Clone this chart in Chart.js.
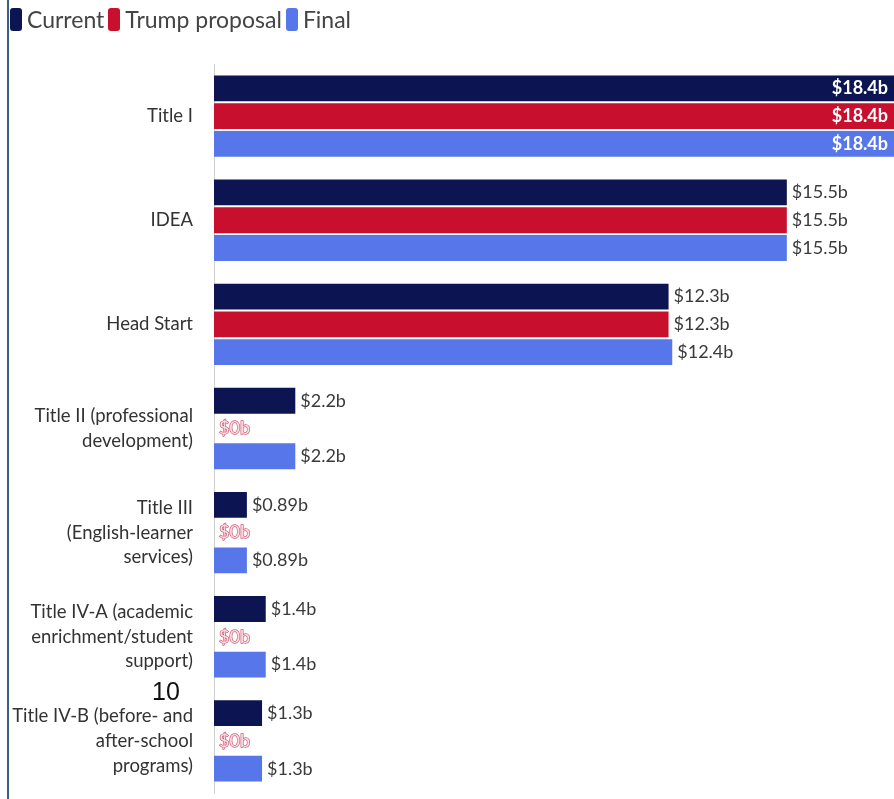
<!DOCTYPE html>
<html>
<head>
<meta charset="utf-8">
<script src="https://cdn.jsdelivr.net/npm/chart.js@4.4.0/dist/chart.umd.min.js"></script>
<style>
  body { margin: 0; background: #fff; }
  #wrap { position: relative; width: 894px; height: 799px; }
  #edge { position: absolute; left: 7px; top: 0; width: 2px; height: 799px; background: #3d5c86; }
  #pageNo { position: absolute; left: 152px; top: 677px; font: 25px "Liberation Sans", Arial, sans-serif; color: #111; }
  #legenda { position: absolute; left: 10px; top: 5px; display: flex; align-items: center; font: 23px Lato, "Noto Sans", sans-serif; color: #444; }
  #legenda span.item { display: flex; align-items: center; margin-right: 4px; }
  #legenda span.caixa { width: 12px; height: 23px; border-radius: 3px; margin-right: 5px; display: inline-block; }
</style>
</head>
<body>
<div id="wrap">
  <canvas id="fundingChart" width="894" height="799"></canvas>
  <div id="edge"></div>
  <div id="legenda"></div>
  <div id="pageNo">10</div>
</div>
<script>
const programas = [
  'Title I',
  'IDEA',
  'Head Start',
  ['Title II (professional', 'development)'],
  ['Title III', '(English-learner', 'services)'],
  ['Title IV-A (academic', 'enrichment/student', 'support)'],
  ['Title IV-B (before- and', 'after-school', 'programs)']
]
const atual = [18.4, 15.5, 12.3, 2.2, 0.89, 1.4, 1.3]
const propostaTrump = [18.4, 15.5, 12.3, 0, 0, 0, 0]
const final = [18.4, 15.5, 12.4, 2.2, 0.89, 1.4, 1.3]

const fonte = 'Lato, "Noto Sans", sans-serif'

// rotulos de valor no fim de cada barra
const rotulosBarras = {
    id: 'rotulosBarras',
    afterDatasetsDraw(chart) {
        const ctx = chart.ctx
        ctx.save()
        ctx.textBaseline = 'middle'
        chart.data.datasets.forEach((ds, i) => {
            const meta = chart.getDatasetMeta(i)
            meta.data.forEach((bar, j) => {
                const v = ds.data[j]
                const txt = '$' + v + 'b'
                ctx.font = '18px ' + fonte
                if (v === 0) {
                    ctx.textAlign = 'left'
                    ctx.lineWidth = 1.4
                    ctx.strokeStyle = '#d05a76'
                    ctx.fillStyle = '#fbe0e6'
                    ctx.strokeText(txt, bar.base + 5, bar.y)
                    ctx.fillText(txt, bar.base + 5, bar.y)
                } else if (j === 0) {
                    ctx.textAlign = 'right'
                    ctx.fillStyle = '#ffffff'
                    ctx.font = 'bold 18px ' + fonte
                    ctx.fillText(txt, bar.x - 6, bar.y)
                } else {
                    ctx.textAlign = 'left'
                    ctx.fillStyle = '#3a3a3a'
                    ctx.fillText(txt, bar.x + 5, bar.y)
                }
            })
        })
        ctx.restore()
    }
}

const grafico = new Chart(document.getElementById('fundingChart'), {
    type: 'bar',
    data: {
        labels: programas,
        datasets: [{
            label: 'Current',
            data: atual,
            backgroundColor: '#0c1552'
        }, {
            label: 'Trump proposal',
            data: propostaTrump,
            backgroundColor: '#c8102e'
        }, {
            label: 'Final',
            data: final,
            backgroundColor: '#5676ea'
        }]
    },
    options: {
        responsive: false,
        animation: false,
        indexAxis: 'y',
        categoryPercentage: 0.8,
        barPercentage: 0.93,
        layout: {
            padding: { left: 10, right: 0, top: 64, bottom: 6 }
        },
        plugins: {
            legend: { display: false },
            tooltip: { enabled: false }
        },
        scales: {
            x: {
                display: false,
                min: 0,
                max: 18.4
            },
            y: {
                afterFit: scale => {
                    scale.width = 204
                    scale.paddingTop = 0
                    scale.paddingBottom = 0
                },
                grid: { display: false, drawTicks: false },
                border: { color: '#d0d0d0', width: 1 },
                ticks: {
                    color: '#333',
                    padding: 21,
                    font: { family: fonte, size: 18.5, lineHeight: 1.33 }
                }
            }
        }
    },
    plugins: [rotulosBarras]
})

// legenda em html, a partir dos datasets
const legenda = document.getElementById('legenda')
grafico.data.datasets.forEach(ds => {
    const item = document.createElement('span')
    item.className = 'item'
    const caixa = document.createElement('span')
    caixa.className = 'caixa'
    caixa.style.background = ds.backgroundColor
    item.appendChild(caixa)
    item.appendChild(document.createTextNode(ds.label))
    legenda.appendChild(item)
})
</script>
</body>
</html>
